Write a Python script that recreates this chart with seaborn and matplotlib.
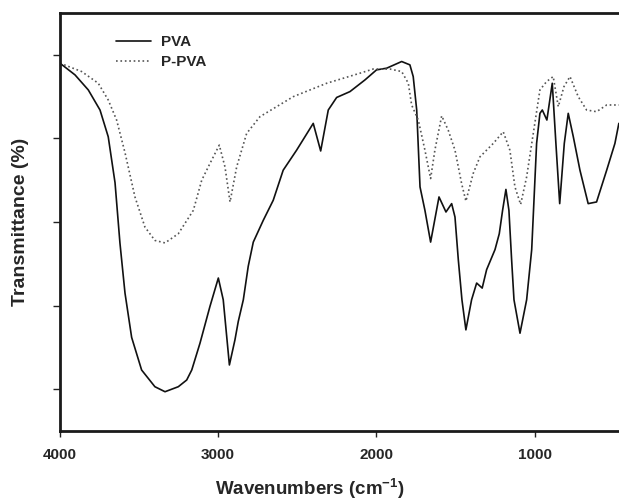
import matplotlib
matplotlib.use("Agg")
import matplotlib.pyplot as plt
import seaborn as sns
import pandas as pd

# ---- data ----
pva_wn = [4000, 3905, 3821, 3747, 3695, 3652, 3621, 3589, 3547, 3484, 3400, 3336, 3252, 3199,
          3167, 3115, 3052, 2999, 2968, 2929, 2894, 2873, 2841, 2810, 2778, 2715, 2652, 2589,
          2504, 2399, 2352, 2304, 2251, 2167, 2072, 1999, 1935, 1840, 1788, 1767, 1745, 1724,
          1693, 1657, 1604, 1560, 1524, 1503, 1482, 1459, 1434, 1398, 1366, 1331, 1303, 1250,
          1223, 1202, 1181, 1162, 1145, 1130, 1092, 1050, 1018, 987, 966, 951, 922, 888, 865,
          841, 812, 787, 755, 713, 661, 608, 544, 492, 467]
pva_t = [49.0, 47.6, 45.8, 43.4, 40.2, 34.7, 27.5, 21.5, 16.2, 12.3, 10.3, 9.7, 10.3, 11.1,
         12.3, 15.5, 19.9, 23.3, 20.7, 12.9, 15.9, 18.1, 20.7, 24.7, 27.6, 30.2, 32.6, 36.2,
         38.6, 41.8, 38.5, 43.4, 44.9, 45.6, 47.0, 48.2, 48.4, 49.2, 48.8, 47.4, 43.4, 34.2,
         31.4, 27.6, 33.0, 31.2, 32.2, 30.6, 25.5, 20.7, 17.1, 20.7, 22.7, 22.1, 24.3, 26.7,
         28.6, 31.4, 33.9, 31.4, 25.5, 20.7, 16.7, 20.7, 26.7, 39.4, 43.0, 43.4, 42.2, 46.6, 39.4,
         32.2, 39.4, 43.0, 40.2, 36.2, 32.2, 32.4, 36.2, 39.4, 41.8]

ppva_wn = [4000, 3863, 3758, 3695, 3642, 3589, 3526, 3463, 3400, 3336, 3252, 3157, 3104, 3052,
           2993, 2957, 2925, 2883, 2820, 2736, 2525, 2314, 2104, 2020, 1914, 1840, 1798, 1777,
           1735, 1693, 1657, 1630, 1587, 1546, 1503, 1461, 1434, 1388, 1345, 1261, 1198, 1156,
           1124, 1088, 1050, 1008, 966, 924, 882, 850, 814, 776, 724, 671, 608, 544, 467]
ppva_t = [49.0, 48.0, 46.6, 44.6, 42.2, 38.3, 33.0, 29.4, 27.8, 27.5, 28.6, 31.4, 35.0, 37.0,
          39.2, 36.6, 32.4, 36.6, 40.6, 42.6, 45.0, 46.6, 47.8, 48.3, 48.3, 48.0, 46.6, 44.0,
          42.2, 38.6, 35.2, 38.6, 42.7, 41.0, 38.6, 34.6, 32.5, 35.8, 37.8, 39.4, 40.8, 38.6,
          34.2, 32.1, 35.4, 40.6, 45.8, 46.8, 47.4, 43.8, 46.2, 47.4, 45.0, 43.4, 43.2, 44.0, 44.0]

x_ticks = [4000, 3000, 2000, 1000]
x_tick_labels = ["4000", "3000", "2000", "1000"]
y_ticks = [10, 20, 30, 40, 50]
series_names = ["PVA", "P-PVA"]

# ---- style ----
sns.set_style("ticks")
plt.rcParams["font.family"] = ["Liberation Sans", "DejaVu Sans"]
plt.rcParams["font.weight"] = "bold"
plt.rcParams["mathtext.fontset"] = "custom"
plt.rcParams["mathtext.rm"] = "Liberation Sans:bold"
plt.rcParams["mathtext.bf"] = "Liberation Sans:bold"
plt.rcParams["mathtext.default"] = "bf"

fig = plt.figure(figsize=(6.19, 5.03), dpi=100)
ax = fig.add_axes([0.0969, 0.1431, 0.920, 0.831])

df_pva = pd.DataFrame({"wn": pva_wn, "T": pva_t})
df_ppva = pd.DataFrame({"wn": ppva_wn, "T": ppva_t})

sns.lineplot(data=df_pva, x="wn", y="T", ax=ax, sort=False, color="#111111",
             linewidth=1.2, label=series_names[0])
sns.lineplot(data=df_ppva, x="wn", y="T", ax=ax, sort=False, color="#555555",
             linewidth=1.2, linestyle=":", label=series_names[1])

ax.set_xlim(4000, 400)
ax.set_ylim(5, 55)
ax.set_xticks(x_ticks)
ax.set_xticklabels(x_tick_labels, fontsize=11, fontweight="bold")
ax.set_yticks(y_ticks)
ax.set_yticklabels([])

for sp in ax.spines.values():
    sp.set_linewidth(2.0)
    sp.set_color("#1a1a1a")
ax.tick_params(axis="x", direction="out", length=4, width=1.0, color="#222222", pad=8)
ax.tick_params(axis="y", direction="out", length=5, width=1.0, color="#222222")

ax.set_xlabel("Wavenumbers (cm$^{-1}$)", fontsize=13.5, fontweight="bold")
ax.xaxis.set_label_coords(0.439, -0.109)
ax.set_ylabel("Transmittance (%)", fontsize=14, fontweight="bold")
ax.yaxis.set_label_coords(-0.054, 0.5)

leg = ax.legend(loc="upper left", bbox_to_anchor=(0.085, 0.965), frameon=False,
                fontsize=11, handlelength=2.3, handletextpad=0.65, labelspacing=0.4,
                borderpad=0)
for t in leg.get_texts():
    t.set_fontweight("bold")

fig.savefig("out.png", dpi=100)
